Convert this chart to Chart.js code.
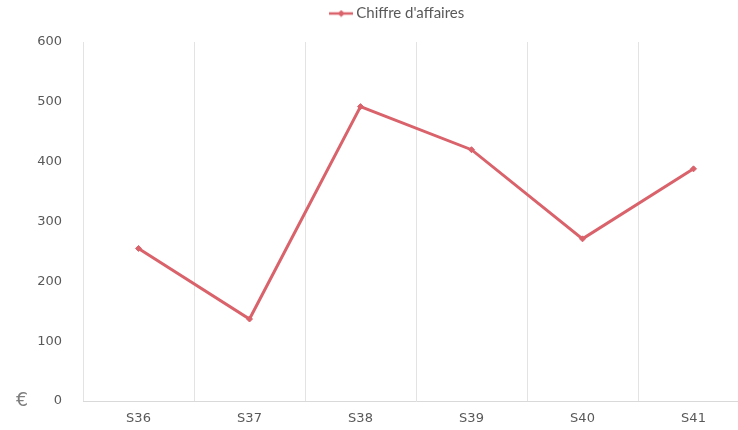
<!DOCTYPE html>
<html>
<head>
<meta charset="utf-8">
<script src="https://cdn.jsdelivr.net/npm/chart.js@4/dist/chart.umd.min.js"></script>
<style>
  html, body { margin: 0; padding: 0; background: #fff; }
  #wrap { width: 738px; height: 430px; overflow: hidden; }
</style>
</head>
<body>
<div id="wrap"><canvas id="caChart" width="754" height="430"></canvas></div>
<script>
const weeks = ['S36', 'S37', 'S38', 'S39', 'S40', 'S41'];
const revenue = [255, 137, 492, 420, 271, 388];
const yTicks = [0, 100, 200, 300, 400, 500, 600];

const lineColor = '#d9626b';
const textColor = '#595959';

// little line + diamond used as the legend symbol
const legendIcon = document.createElement('canvas');
legendIcon.width = 24;
legendIcon.height = 8;
(function () {
    const g = legendIcon.getContext('2d');
    g.strokeStyle = lineColor;
    g.fillStyle = lineColor;
    g.lineWidth = 2.5;
    g.beginPath(); g.moveTo(0, 4); g.lineTo(24, 4); g.stroke();
    g.beginPath(); g.moveTo(12, 0.5); g.lineTo(15.5, 4); g.lineTo(12, 7.5); g.lineTo(8.5, 4); g.closePath(); g.fill();
})();

// draws the € sign left of the 0 tick
const euroLabel = {
    id: 'euroLabel',
    afterDraw(chart) {
        const c = chart.ctx;
        const y = chart.scales.y.getPixelForValue(0);
        c.save();
        c.font = '19px "DejaVu Sans"';
        c.fillStyle = '#7f7f7f';
        c.textAlign = 'left';
        c.textBaseline = 'middle';
        c.fillText('€', 16, y);
        c.restore();
    }
};

// more room under the legend, and legend sits a little right of centre
const legendGap = {
    id: 'legendGap',
    beforeInit(chart) {
        const fit = chart.legend.fit;
        chart.legend.fit = function () {
            fit.bind(chart.legend)();
            this.height += 11;
        };
    },
    afterLayout(chart) {
        chart.legend.left += 23;
        chart.legend.right += 23;
    }
};

const ctx = document.getElementById('caChart').getContext('2d');
const caChart = new Chart(ctx, {
    type: 'line',
    data: {
        labels: weeks,
        datasets: [{
            label: "Chiffre d'affaires",
            data: revenue,
            borderColor: lineColor,
            backgroundColor: lineColor,
            borderWidth: 3,
            pointStyle: 'rectRot',
            pointRadius: 3,
            pointBorderWidth: 1,
            tension: 0
        }]
    },
    options: {
        responsive: false,
        animation: false,
        layout: { padding: { top: 0, right: 2, bottom: 0, left: 0 } },
        plugins: {
            legend: {
                position: 'top',
                labels: {
                    color: textColor,
                    font: { family: 'Lato', size: 15 },
                    usePointStyle: true,
                    pointStyle: legendIcon,
                    padding: 6
                }
            },
            tooltip: { enabled: false }
        },
        scales: {
            x: {
                offset: true,
                grid: { display: true, offset: true, color: '#e3e3e3', drawTicks: false },
                border: { display: true, color: '#d9d9d9' },
                afterFit(axis) { axis.height = 29; },
                ticks: {
                    color: textColor,
                    font: { family: '"DejaVu Sans"', size: 13 },
                    padding: 10
                }
            },
            y: {
                min: 0,
                max: 600,
                afterBuildTicks(axis) {
                    axis.ticks = yTicks.map(v => ({ value: v }));
                },
                afterFit(axis) { axis.width = 83; },
                grid: { display: false },
                border: { display: false },
                ticks: {
                    color: textColor,
                    font: { family: '"DejaVu Sans"', size: 13 },
                    padding: 13
                }
            }
        }
    },
    plugins: [euroLabel, legendGap]
});
</script>
</body>
</html>
